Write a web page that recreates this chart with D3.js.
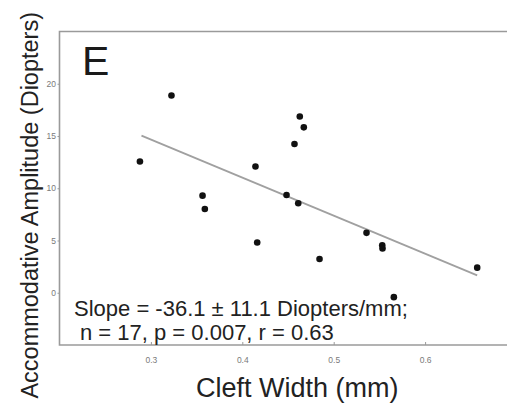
<!DOCTYPE html>
<html>
<head>
<meta charset="utf-8">
<script src="https://cdn.jsdelivr.net/npm/d3@7"></script>
<style>
  body { margin: 0; background: #fff; }
  svg { display: block; font-family: "Liberation Sans", Arial, sans-serif; }
</style>
</head>
<body>
<div id="chart"></div>
<script>
// cleft width (mm) and accommodative amplitude (diopters)
const cleftWidth = [0.288, 0.3225, 0.3565, 0.359, 0.4144, 0.4163, 0.4484, 0.4571, 0.4629,
                    0.4612, 0.4673, 0.4845, 0.5359, 0.5531, 0.5534, 0.5658, 0.657];
const amplitude  = [12.56, 18.87, 9.29, 8.01, 12.08, 4.81, 9.36, 14.23, 16.86,
                    8.56, 15.83, 3.23, 5.73, 4.55, 4.23, -0.42, 2.40];

// regression line end points
const fitX = [0.2897, 0.657];
const fitY = [15.03, 1.66];

const xTicks = [0.3, 0.4, 0.5, 0.6];
const yTicks = [0, 5, 10, 15, 20];

const width = 507;
const height = 405;

const svg = d3.select('#chart')
  .append('svg')
    .attr('width', width)
    .attr('height', height);

const x = d3.scaleLinear().domain([0.2, 0.7]).range([59.5, 516.5]);
const y = d3.scaleLinear().domain([-5, 25]).range([345, 31.5]);

// frame (right side runs off the picture)
const frame = '#9a9a9a';
svg.append('path')
  .attr('d', `M${x(0.7) + 5},${y(25)} H${x(0.2)} V${y(-5)} H${x(0.7) + 5}`)
  .attr('fill', 'none')
  .attr('stroke', frame)
  .attr('stroke-width', 1.6);

// axes
const xAxis = svg.append('g')
  .attr('transform', `translate(0,${y(-5)})`)
  .call(d3.axisBottom(x).tickValues(xTicks).tickFormat(d3.format('.1f')).tickSize(-3).tickPadding(12));

const yAxis = svg.append('g')
  .attr('transform', `translate(${x(0.2)},0)`)
  .call(d3.axisLeft(y).tickValues(yTicks).tickSize(2).tickPadding(1.5));

[xAxis, yAxis].forEach(a => {
  a.select('.domain').remove();
  a.selectAll('line').attr('stroke', frame);
  a.selectAll('text')
    .attr('fill', '#7a7a7a')
    .style('font-size', '8.5px')
    .style('font-family', '"Liberation Sans", Arial, sans-serif');
});

// fitted line
svg.append('line')
  .attr('x1', x(fitX[0])).attr('y1', y(fitY[0]))
  .attr('x2', x(fitX[1])).attr('y2', y(fitY[1]))
  .attr('stroke', '#a0a0a0')
  .attr('stroke-width', 1.8);

// points
svg.append('g')
  .selectAll('circle')
  .data(cleftWidth)
  .enter()
    .append('circle')
      .attr('cx', d => x(d))
      .attr('cy', (d, i) => y(amplitude[i]))
      .attr('r', 3.3)
      .attr('fill', '#111');

// panel letter
svg.append('text')
  .attr('x', 82).attr('y', 75)
  .style('font-size', '41px')
  .attr('fill', '#1a1a1a')
  .text('E');

// stats text
svg.append('text')
  .attr('x', 74).attr('y', 316)
  .style('font-size', '22px')
  .attr('fill', '#222')
  .text('Slope = -36.1 ± 11.1 Diopters/mm;');

svg.append('text')
  .attr('x', 80).attr('y', 340)
  .style('font-size', '22px')
  .attr('fill', '#222')
  .text('n = 17, p = 0.007, r = 0.63');

// axis titles
svg.append('text')
  .attr('x', 196).attr('y', 397)
  .style('font-size', '27px')
  .attr('fill', '#222')
  .text('Cleft Width (mm)');

svg.append('text')
  .attr('transform', 'translate(38,12) rotate(-90)')
  .attr('text-anchor', 'end')
  .style('font-size', '23.5px')
  .attr('fill', '#222')
  .text('Accommodative Amplitude (Diopters)');
</script>
</body>
</html>
